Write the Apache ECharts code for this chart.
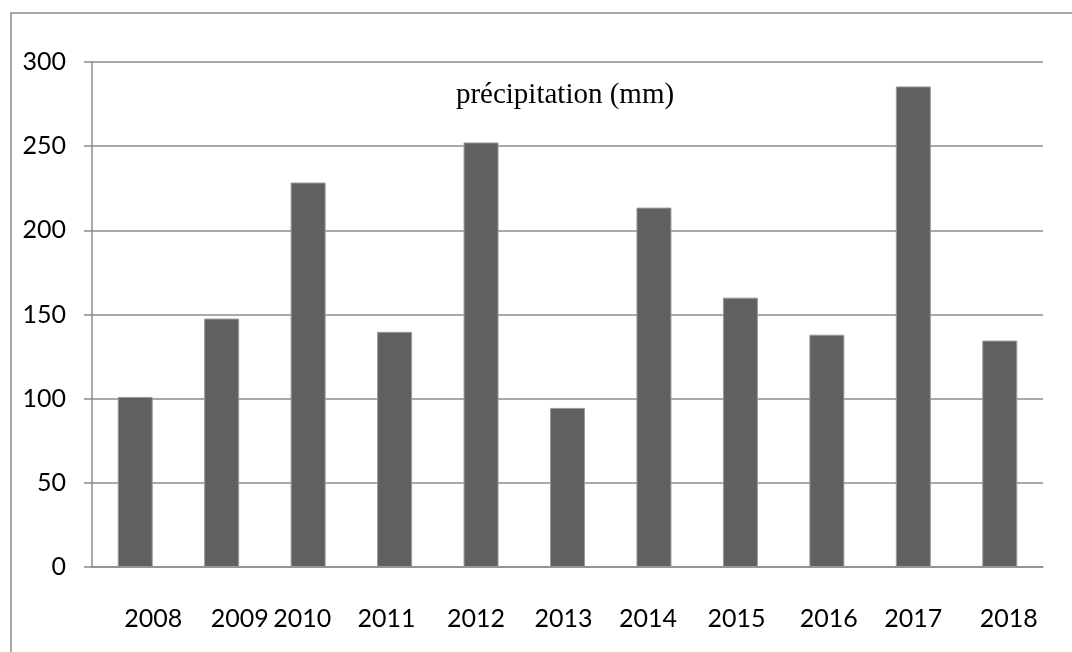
<!DOCTYPE html>
<html>
<head>
<meta charset="utf-8">
<script src="https://cdn.jsdelivr.net/npm/echarts@6/dist/echarts.min.js"></script>
<style>html,body{margin:0;padding:0;background:#fff}#c{width:1072px;height:652px}</style>
</head>
<body>
<div id="c"></div>
<script>
const categories = ['2008','2009','2010','2011','2012','2013','2014','2015','2016','2017','2018'];
const precipitation = [101, 147.6, 228.4, 139.7, 252.2, 94.5, 213.5, 160, 138, 285.5, 134.5];
const yTicks = [0, 50, 100, 150, 200, 250, 300];
const titleText = 'précipitation (mm)';

// label horizontal shifts (px) to mimic the reference's uneven label placement
const labelShift = [18, 18, -6, -8, -5, -4, -6, -4, 2, 0, 9];

const chart = echarts.init(document.getElementById('c'), null, {renderer: 'canvas'});
const axisFont = 'Lato, "Open Sans", sans-serif';
chart.setOption({
  animation: false,
  backgroundColor: '#fff',
  grid: {left: 92, right: 29, top: 62, bottom: 85, containLabel: false},
  graphic: [
    {type: 'rect', shape: {x: 11, y: 13, width: 1100, height: 700},
     style: {fill: 'none', stroke: '#8a8a8a', lineWidth: 1.5}, silent: true},
    {type: 'text', x: 565, y: 95,
     style: {text: titleText, font: '29px "Liberation Serif", "Times New Roman", serif',
             fill: '#000', align: 'center', verticalAlign: 'middle'}}
  ],
  xAxis: {
    type: 'category',
    data: categories.map((c, i) => ({
      value: c,
      textStyle: {padding: labelShift[i] >= 0 ? [0, 0, 0, 2 * labelShift[i]] : [0, -2 * labelShift[i], 0, 0]}
    })),
    axisLine: {show: true, lineStyle: {color: '#8c8c8c', width: 1.5}},
    axisTick: {show: false},
    axisLabel: {color: '#000', fontFamily: axisFont, fontSize: 25, margin: 39, interval: 0}
  },
  yAxis: {
    type: 'value',
    min: yTicks[0], max: yTicks[yTicks.length - 1], interval: 50,
    axisLine: {show: true, lineStyle: {color: '#8c8c8c', width: 1.5}},
    axisTick: {show: true, length: 8, lineStyle: {color: '#8c8c8c', width: 1.5}},
    splitLine: {show: true, lineStyle: {color: '#8c8c8c', width: 1.5}},
    axisLabel: {color: '#000', fontFamily: axisFont, fontSize: 25, margin: 26}
  },
  series: [{
    type: 'bar',
    data: precipitation,
    barWidth: 35,
    itemStyle: {color: '#606060', borderColor: '#9a9a9a', borderWidth: 1}
  }]
});
</script>
</body>
</html>
